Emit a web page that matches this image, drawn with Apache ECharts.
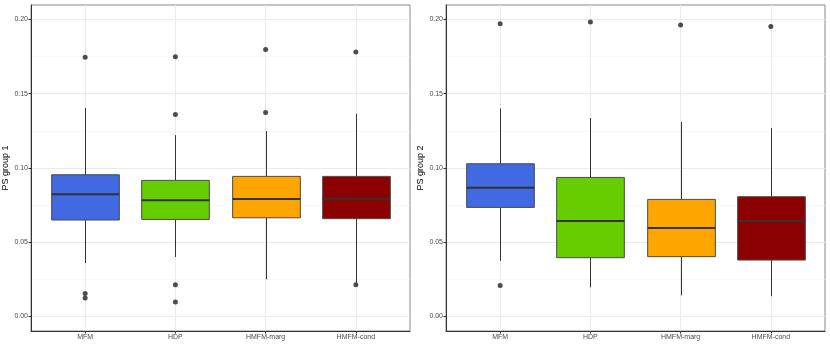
<!DOCTYPE html>
<html><head><meta charset="utf-8">
<script src="https://cdn.jsdelivr.net/npm/echarts@6/dist/echarts.min.js"></script>
<style>html,body{margin:0;padding:0;background:#fff}#c{width:830px;height:356px}</style>
</head><body><div id="c"></div>
<script>
const categories = ['MFM', 'HDP', 'HMFM-marg', 'HMFM-cond'];
const colors = ['#4169E1', '#66CD00', '#FFA500', '#8B0000'];
// [lowerWhisker, Q1, median, Q3, upperWhisker]
const group1Boxes = [
  [0.0359, 0.0649, 0.0822, 0.0954, 0.1405],
  [0.0400, 0.0653, 0.0783, 0.0916, 0.1221],
  [0.0249, 0.0664, 0.0790, 0.0943, 0.1248],
  [0.0225, 0.0658, 0.0792, 0.0943, 0.1365]
];
const group1Outliers = [
  [0.1746, 0.0153, 0.0123],
  [0.1749, 0.1360, 0.0213, 0.0097],
  [0.1798, 0.1374],
  [0.1782, 0.0213]
];
const group2Boxes = [
  [0.0373, 0.0734, 0.0866, 0.1028, 0.1401],
  [0.0195, 0.0395, 0.0642, 0.0936, 0.1336],
  [0.0141, 0.0402, 0.0595, 0.0788, 0.1309],
  [0.0135, 0.0379, 0.0642, 0.0806, 0.1268]
];
const group2Outliers = [
  [0.1971, 0.0207],
  [0.1984],
  [0.1964],
  [0.1953]
];
const yTicks = [0, 0.05, 0.10, 0.15, 0.20];
const yMinorTicks = [0.025, 0.075, 0.125, 0.175];
const yTitles = ['PS group 1', 'PS group 2'];

const chart = echarts.init(document.getElementById('c'), null, {renderer: 'canvas'});
const FONT = 'Liberation Sans';
const panels = [
  {left: 31, boxes: group1Boxes, outliers: group1Outliers},
  {left: 446, boxes: group2Boxes, outliers: group2Outliers}
];
const xPos = categories.map((c, i) => i + 1);

const grid = [], xAxis = [], yAxis = [], series = [];
panels.forEach((p, gi) => {
  grid.push({left: p.left, top: 5, width: 379, height: 326, show: true,
    borderColor: '#8a8a8a', borderWidth: 1, backgroundColor: '#fff'});
  xAxis.push({type: 'value', gridIndex: gi, min: 0.4, max: 4.6,
    axisLine: {show: true, onZero: false, lineStyle: {color: '#333', width: 1}},
    axisTick: {show: true, length: 2.5, customValues: xPos, lineStyle: {color: '#333'}},
    axisLabel: {customValues: xPos, fontFamily: FONT, fontSize: 7, color: '#4d4d4d', margin: 3,
      formatter: v => categories[Math.round(v) - 1] || ''},
    splitLine: {show: true, lineStyle: {color: '#ebebeb', width: 1}}
  });
  yAxis.push({type: 'value', gridIndex: gi, min: -0.0099, max: 0.2098,
    name: yTitles[gi], nameLocation: 'middle', nameGap: 18, nameRotate: 90,
    nameTextStyle: {fontFamily: FONT, fontSize: 9, color: '#000'},
    axisLine: {show: true, onZero: false, lineStyle: {color: '#333', width: 1}},
    axisTick: {show: true, length: 2.5, customValues: yTicks, lineStyle: {color: '#333'}},
    axisLabel: {customValues: yTicks, fontFamily: FONT, fontSize: 7, color: '#4d4d4d', margin: 3,
      formatter: v => v.toFixed(2)},
    splitLine: {show: true, lineStyle: {color: '#ebebeb', width: 1}}
  });
  yAxis.push({type: 'value', gridIndex: gi, min: -0.0099, max: 0.2098, position: 'left',
    axisLine: {show: false}, axisTick: {show: false, customValues: yMinorTicks},
    axisLabel: {show: false, customValues: yMinorTicks},
    splitLine: {show: true, lineStyle: {color: '#f5f5f5', width: 0.6}}
  });
  const boxData = p.boxes.map((b, i) => [xPos[i], b[0], b[1], b[2], b[3], b[4]]);
  series.push({
    type: 'custom', xAxisIndex: gi, yAxisIndex: gi * 2, z: 5,
    encode: {x: 0, y: [1, 2, 3, 4, 5]},
    data: boxData,
    renderItem: function (params, api) {
      const x = api.value(0);
      const lo = api.coord([x, api.value(1)]);
      const q1 = api.coord([x, api.value(2)]);
      const md = api.coord([x, api.value(3)]);
      const q3 = api.coord([x, api.value(4)]);
      const hi = api.coord([x, api.value(5)]);
      const w = api.size([0.75, 0])[0];
      const cx = Math.round(lo[0]) + 0.5;
      return {type: 'group', children: [
        {type: 'line', shape: {x1: cx, y1: hi[1], x2: cx, y2: q3[1]}, style: {stroke: '#333', lineWidth: 1}},
        {type: 'line', shape: {x1: cx, y1: q1[1], x2: cx, y2: lo[1]}, style: {stroke: '#333', lineWidth: 1}},
        {type: 'rect', shape: {x: cx - w / 2, y: q3[1], width: w, height: q1[1] - q3[1]},
          style: {fill: colors[params.dataIndex], stroke: '#4a4a4a', lineWidth: 1}},
        {type: 'line', shape: {x1: cx - w / 2, y1: md[1], x2: cx + w / 2, y2: md[1]}, style: {stroke: '#333', lineWidth: 2}}
      ]};
    }
  });
  const pts = [];
  p.outliers.forEach((arr, i) => arr.forEach(v => pts.push([xPos[i], v])));
  series.push({type: 'scatter', xAxisIndex: gi, yAxisIndex: gi * 2, z: 6,
    symbolSize: 5, itemStyle: {color: '#222'}, data: pts, silent: true});
});

chart.setOption({animation: false, grid, xAxis, yAxis, series});
</script></body></html>
